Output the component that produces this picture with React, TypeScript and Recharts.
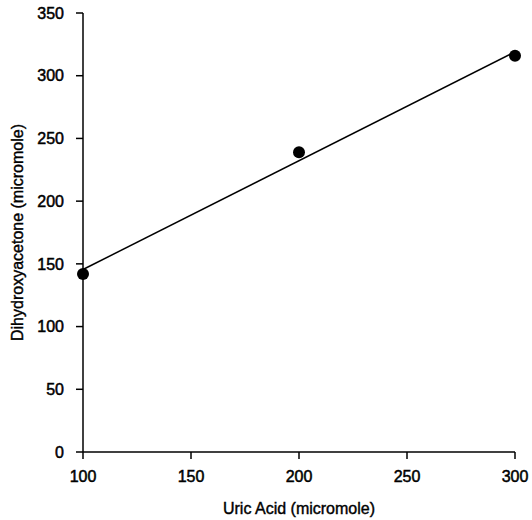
import React from 'react';
import { ComposedChart, Scatter, Line, XAxis, YAxis } from 'recharts';

// measured points (uric acid vs dihydroxyacetone, micromole)
const uricAcid = [100, 200, 300];
const dha = [142, 239, 316];

// fitted line end points as drawn
const fitX = [100, 300];
const fitY = [145.5, 319];

const xTicks = [100, 150, 200, 250, 300];
const yTicks = [0, 50, 100, 150, 200, 250, 300, 350];

const points = uricAcid.map((x, i) => ({ x, y: dha[i] }));
const fit = fitX.map((x, i) => ({ x, y: fitY[i] }));

const font = {
  fontFamily: '"Liberation Sans", Arial, sans-serif',
  fontSize: 16,
  fill: '#000',
  stroke: '#000',
  strokeWidth: 0.5,
};

const Dot = (props: any) => {
  const { cx, cy } = props;
  return <circle cx={cx} cy={cy} r={6} fill="#000" />;
};

const App: React.FC = () => {
  return (
    <div style={{ position: 'absolute', left: 0, top: 0, background: '#fff' }}>
      <ComposedChart width={532} height={520} margin={{ top: 13, right: 17, bottom: 0, left: 0 }}>
        <XAxis
          type="number"
          dataKey="x"
          domain={[100, 300]}
          ticks={xTicks}
          height={68}
          stroke="#000"
          strokeWidth={1.5}
          tickSize={7}
          tickMargin={12}
          tick={font}
          label={{ value: 'Uric Acid (micromole)', position: 'insideBottom', offset: 6, style: { ...font, fontSize: 16, strokeWidth: 0.4 } }}
        />
        <YAxis
          type="number"
          dataKey="y"
          domain={[0, 350]}
          ticks={yTicks}
          width={83}
          stroke="#000"
          strokeWidth={1.5}
          tickSize={7}
          tickMargin={12}
          tick={font}
          label={{ value: 'Dihydroxyacetone (micromole)', angle: -90, position: 'insideLeft', offset: 17, style: { ...font, fontSize: 16, strokeWidth: 0.4, textAnchor: 'middle' } }}
        />
        <Line data={fit} dataKey="y" type="linear" stroke="#000" strokeWidth={1.5} dot={false} activeDot={false} isAnimationActive={false} />
        <Scatter data={points} dataKey="y" fill="#000" shape={<Dot />} isAnimationActive={false} />
      </ComposedChart>
    </div>
  );
};

export default App;
